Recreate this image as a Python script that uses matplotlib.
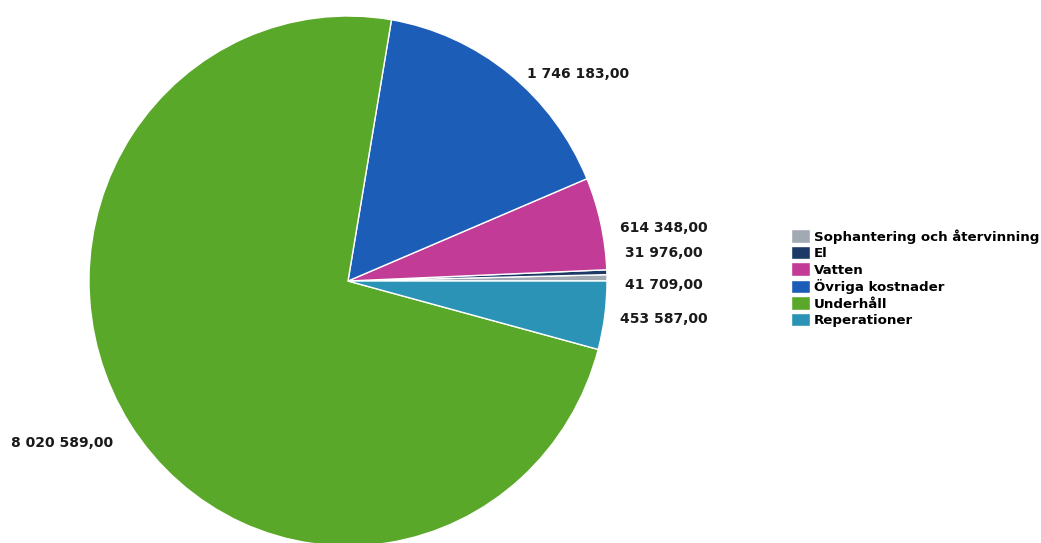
import matplotlib.pyplot as plt
import numpy as np

categories = ['Sophantering och återvinning', 'El', 'Vatten', 'Övriga kostnader', 'Underhåll', 'Reperationer']
values = [41709, 31976, 614348, 1746183, 8020589, 453587]
labels = ['41 709,00', '31 976,00', '614 348,00', '1 746 183,00', '8 020 589,00', '453 587,00']
colors = ['#a3a9b3', '#1d3a66', '#c13b97', '#1c5db8', '#5aa82a', '#2b93b5']

fig = plt.figure(figsize=(10.41, 5.43), dpi=100)
ax = fig.add_axes([89 / 1041, -3 / 543, 518 / 1041, 530 / 543])

wedges, _ = ax.pie(values, colors=colors, startangle=0, counterclock=True,
                   wedgeprops=dict(edgecolor='white', linewidth=1.0))
ax.set_aspect('auto')
ax.set_xlim(-1, 1)
ax.set_ylim(-1, 1)

# label anchors (x, y, ha) - small slices are stacked by hand
label_pos = [(1.07, -0.015, 'left'), (1.07, 0.105, 'left'), (1.05, 0.2, 'left'),
             (0.69, 0.78, 'left'), (-0.905, -0.61, 'right'), (1.05, -0.145, 'left')]
for (x, y, ha), txt in zip(label_pos, labels):
    ax.text(x, y, txt, ha=ha, va='center', fontsize=10, fontweight='bold', color='#1a1a1a')

fig.legend(wedges, categories, loc='upper left', bbox_to_anchor=(791 / 1041, 1 - 229 / 543),
           frameon=False, prop=dict(size=9.6, weight='bold'), handlelength=1.4,
           handleheight=1.15, handletextpad=0.3, labelspacing=0.18, borderpad=0,
           borderaxespad=0)

fig.savefig('out.png', dpi=100)
